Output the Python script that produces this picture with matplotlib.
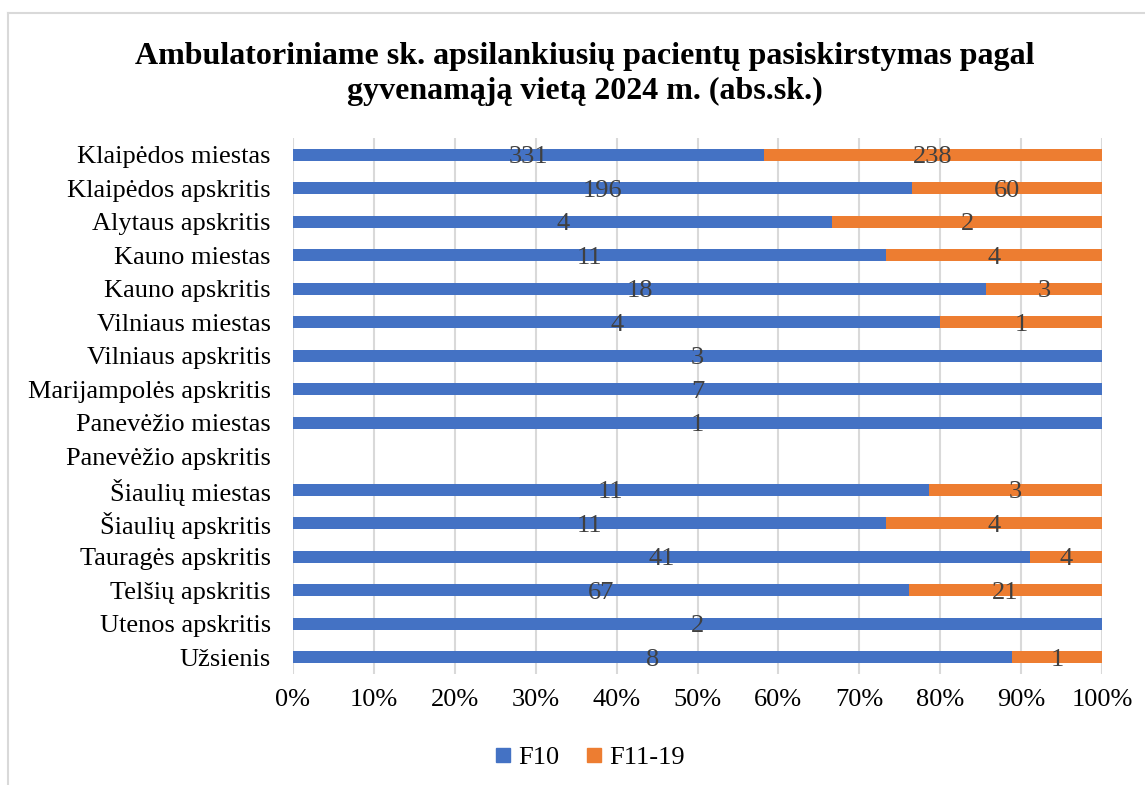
import matplotlib
matplotlib.use("Agg")
import matplotlib.pyplot as plt
from matplotlib.lines import Line2D
import numpy as np

categories = ["Klaipėdos miestas", "Klaipėdos apskritis", "Alytaus apskritis",
              "Kauno miestas", "Kauno apskritis", "Vilniaus miestas",
              "Vilniaus apskritis", "Marijampolės apskritis", "Panevėžio miestas",
              "Panevėžio apskritis", "Šiaulių miestas", "Šiaulių apskritis",
              "Tauragės apskritis", "Telšių apskritis", "Utenos apskritis", "Užsienis"]
f10 = [331, 196, 4, 11, 18, 4, 3, 7, 1, 0, 11, 11, 41, 67, 2, 8]
f11_19 = [238, 60, 2, 4, 3, 1, 0, 0, 0, 0, 3, 4, 4, 21, 0, 1]
series_names = ["F10", "F11-19"]
xtick_labels = ["0%", "10%", "20%", "30%", "40%", "50%", "60%", "70%", "80%", "90%", "100%"]
title = "Ambulatoriniame sk. apsilankiusių pacientų pasiskirstymas pagal\ngyvenamąją vietą 2024 m. (abs.sk.)"

colors = ["#4472C4", "#ED7D31"]
plt.rcParams['font.family'] = ['Liberation Serif', 'DejaVu Serif']

W, H = 1145, 785
fig = plt.figure(figsize=(W / 100, H / 100), dpi=100)
ax = fig.add_axes([293 / W, 1 - 674 / H, (1102 - 293) / W, (674 - 138) / H])

a = np.array(f10, dtype=float)
b = np.array(f11_19, dtype=float)
tot = a + b
with np.errstate(invalid='ignore', divide='ignore'):
    pa = np.where(tot > 0, a / tot, 0.0)
    pb = np.where(tot > 0, b / tot, 0.0)

fs = 19
y = np.arange(len(categories))
bh = 0.36
ax.barh(y, pa, height=bh, color=colors[0], zorder=3)
ax.barh(y, pb, left=pa, height=bh, color=colors[1], zorder=3)

for i in range(len(categories)):
    if a[i] > 0:
        ax.text(pa[i] / 2, y[i] + 0.08, f"{int(a[i])}", ha='center', va='center',
                fontsize=fs, color='#404040', zorder=4)
    if b[i] > 0:
        ax.text(pa[i] + pb[i] / 2, y[i] + 0.08, f"{int(b[i])}", ha='center', va='center',
                fontsize=fs, color='#404040', zorder=4)

ax.set_ylim(len(categories) - 0.5, -0.5)
ax.set_xlim(0, 1)
ax.set_yticks(y)
ax.set_yticklabels(categories, fontsize=fs)
ax.set_xticks(np.linspace(0, 1, 11))
ax.set_xticklabels(xtick_labels, fontsize=fs)
ax.tick_params(axis='both', length=0)
ax.tick_params(axis='y', pad=16)
ax.tick_params(axis='x', pad=11)
ax.grid(axis='x', color='#d9d9d9', linewidth=1.5, zorder=0)
for s in ax.spines.values():
    s.set_visible(False)

fig.text(585 / W, 1 - 74 / H, title, ha='center', va='center', fontsize=23,
         fontweight='bold', linespacing=1.3)

handles = [Line2D([], [], marker='s', linestyle='none', markersize=10,
                  markerfacecolor=c, markeredgecolor=c) for c in colors]
fig.legend(handles, series_names, loc='center', bbox_to_anchor=(590 / W, 1 - 757 / H),
           ncol=2, frameon=False, fontsize=fs, handlelength=0.6, handletextpad=0.3,
           columnspacing=1.0)

# chart border
fig.add_artist(Line2D([7.5 / W, 1], [1 - 12.5 / H, 1 - 12.5 / H], color='#d9d9d9', lw=1.5))
fig.add_artist(Line2D([7.5 / W, 7.5 / W], [0, 1 - 12.5 / H], color='#d9d9d9', lw=1.5))

fig.savefig("out.png", dpi=100)
